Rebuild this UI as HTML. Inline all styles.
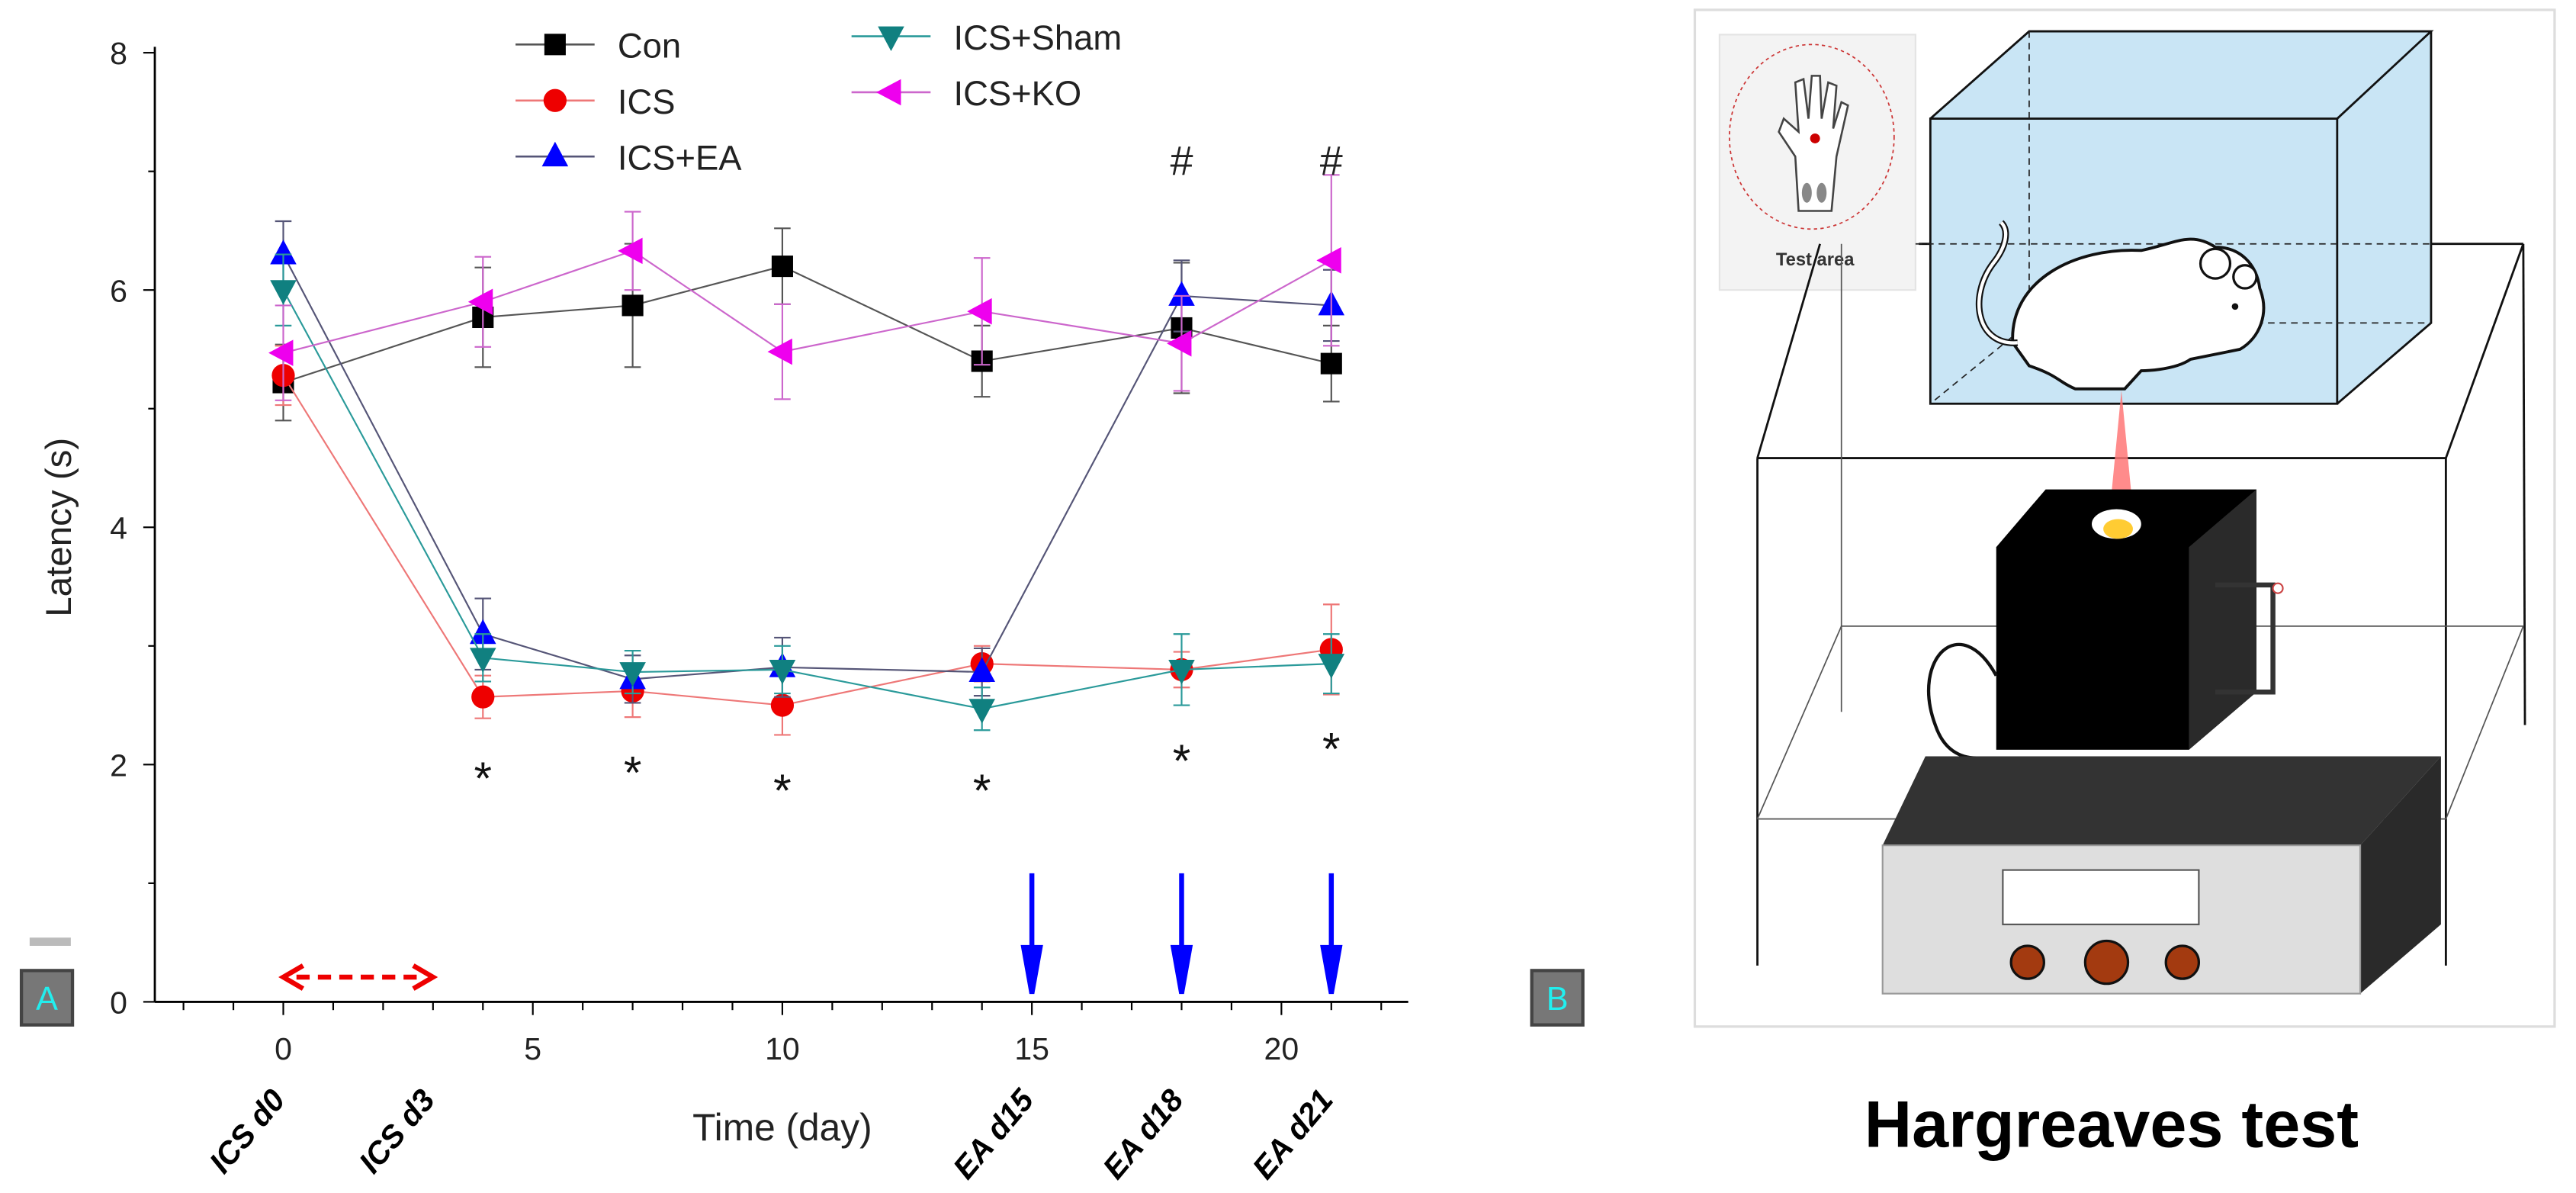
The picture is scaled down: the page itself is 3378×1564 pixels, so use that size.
<!DOCTYPE html>
<html><head><meta charset="utf-8"><style>
html,body{margin:0;padding:0;background:#fff;}
svg{display:block;font-family:"Liberation Sans",sans-serif;}
</style></head><body>
<svg width="3378" height="1564" viewBox="0 0 1564 724" preserveAspectRatio="none" xmlns="http://www.w3.org/2000/svg">
<rect x="0" y="0" width="1564" height="724" fill="#fff"/>
<g id="chart"></g>

<rect x="18" y="569" width="25" height="5" fill="#bbb"/>
<rect x="13" y="589" width="31" height="33" fill="#777" stroke="#444" stroke-width="2"/>
<text x="28.5" y="613" font-size="20" fill="#2ee" text-anchor="middle">A</text>
<rect x="930" y="589" width="31" height="33" fill="#777" stroke="#444" stroke-width="2"/>
<text x="945.5" y="613" font-size="20" fill="#2ee" text-anchor="middle">B</text>

<g>
<rect x="1029" y="6" width="522" height="617" fill="#fff" stroke="#ddd" stroke-width="1.5"/>
<rect x="1044" y="21" width="119" height="155" fill="#f3f3f3" stroke="#e4e4e4"/>
<ellipse cx="1100" cy="83" rx="50" ry="56" fill="none" stroke="#c33" stroke-width="0.8" stroke-dasharray="2,2"/>
<path d="M1092 128 L1090 95 L1080 80 L1083 72 L1092 80 L1090 50 L1095 48 L1098 72 L1100 46 L1105 46 L1106 72 L1110 50 L1115 52 L1113 78 L1118 62 L1122 64 L1115 95 L1112 128 Z" fill="#fff" stroke="#444" stroke-width="1.2"/>
<circle cx="1102" cy="84" r="3" fill="#c00"/>
<ellipse cx="1097" cy="117" rx="3" ry="6" fill="#888"/><ellipse cx="1106" cy="117" rx="3" ry="6" fill="#888"/>
<text x="1102" y="161" font-size="11" font-weight="bold" fill="#333" text-anchor="middle">Test area</text>
<g fill="none" stroke="#111" stroke-width="1.3">
<line x1="1067" y1="278" x2="1485" y2="278"/>
<line x1="1067" y1="278" x2="1105" y2="148"/>
<line x1="1485" y1="278" x2="1532" y2="148"/>
<line x1="1165" y1="148" x2="1532" y2="148"/>
<line x1="1067" y1="278" x2="1067" y2="586"/>
<line x1="1485" y1="278" x2="1485" y2="586"/>
<line x1="1532" y1="148" x2="1533" y2="440"/>
</g>
<g fill="none" stroke="#555" stroke-width="0.8">
<line x1="1118" y1="148" x2="1118" y2="432"/>
<line x1="1067" y1="497" x2="1485" y2="497"/>
<line x1="1118" y1="380" x2="1532" y2="380"/>
<line x1="1067" y1="497" x2="1118" y2="380"/>
<line x1="1485" y1="497" x2="1532" y2="380"/>
</g>
<path d="M1172 72 L1232 19 L1476 19 L1476 196 L1419 245 L1172 245 Z" fill="#c9e5f5"/>
<g fill="none" stroke="#111" stroke-width="1.3">
<rect x="1172" y="72" width="247" height="173"/>
<path d="M1172 72 L1232 19 L1476 19 L1419 72 M1476 19 L1476 196 L1419 245"/>
</g>
<g fill="none" stroke="#222" stroke-width="0.8" stroke-dasharray="4,3">
<path d="M1232 19 L1232 196 L1476 196 M1232 196 L1172 245 M1163 148 L1476 148"/>
</g>
<path d="M1222 208 C1220 170 1260 150 1300 152 C1320 148 1330 140 1345 150 C1360 150 1370 160 1372 175 C1378 190 1372 205 1360 212 L1330 218 C1320 225 1300 225 1300 225 L1290 236 L1260 236 C1250 232 1250 228 1232 222 Z" fill="#fff" stroke="#111" stroke-width="1.8"/>
<path d="M1225 208 C1200 210 1195 180 1210 160 C1218 150 1220 140 1215 135" fill="none" stroke="#111" stroke-width="4"/>
<path d="M1225 208 C1200 210 1195 180 1210 160 C1218 150 1220 140 1215 135" fill="none" stroke="#fff" stroke-width="2"/>
<circle cx="1345" cy="160" r="9" fill="#fff" stroke="#111" stroke-width="1.5"/>
<circle cx="1363" cy="168" r="7" fill="#fff" stroke="#111" stroke-width="1.5"/>
<circle cx="1357" cy="186" r="2" fill="#111"/>
<polygon points="1288,237 1280,320 1296,320" fill="#f77" opacity="0.85"/>
<polygon points="1212,332 1242,297 1370,297 1370,420 1329,455 1212,455" fill="#000"/>
<polygon points="1329,332 1370,297 1370,420 1329,455" fill="#2a2a2a"/>
<ellipse cx="1285" cy="318" rx="15" ry="9" fill="#fff"/>
<ellipse cx="1286" cy="321" rx="9" ry="6" fill="#fc3"/>
<path d="M1345 355 L1380 355 L1380 420 L1345 420" fill="none" stroke="#333" stroke-width="3"/>
<circle cx="1383" cy="357" r="3" fill="#fff" stroke="#c44"/>
<path d="M1212 410 C1190 370 1160 400 1175 440 C1180 455 1190 460 1200 460" fill="none" stroke="#111" stroke-width="2"/>
<polygon points="1143,513 1169,459 1482,459 1433,513" fill="#333"/>
<polygon points="1433,513 1482,459 1482,561 1433,603" fill="#2a2a2a"/>
<rect x="1143" y="513" width="290" height="90" fill="#dedede" stroke="#999"/>
<rect x="1216" y="528" width="119" height="33" fill="#fff" stroke="#555"/>
<circle cx="1231" cy="584" r="10" fill="#a33a10" stroke="#111" stroke-width="1.5"/>
<circle cx="1279" cy="584" r="13" fill="#a33a10" stroke="#111" stroke-width="1.5"/>
<circle cx="1325" cy="584" r="10" fill="#a33a10" stroke="#111" stroke-width="1.5"/>
</g>
<text x="1282" y="696" font-size="40" font-weight="bold" fill="#000" text-anchor="middle">Hargreaves test</text>
</svg>
<script>
const days = [0, 4, 7, 10, 14, 18, 21];
const conVals = [5.22, 5.77, 5.87, 6.2, 5.4, 5.68, 5.38];
const conErr = [0.32, 0.42, 0.52, 0.32, 0.3, 0.55, 0.32];
const icsVals = [5.28, 2.57, 2.62, 2.5, 2.85, 2.8, 2.97];
const icsErr = [0.25, 0.18, 0.22, 0.25, 0.15, 0.15, 0.38];
const eaVals = [6.3, 3.1, 2.72, 2.82, 2.78, 5.95, 5.87];
const eaErr = [0.28, 0.3, 0.2, 0.25, 0.2, 0.3, 0.3];
const shamVals = [6.0, 2.9, 2.78, 2.8, 2.47, 2.8, 2.85];
const shamErr = [0.3, 0.2, 0.18, 0.2, 0.18, 0.3, 0.25];
const koVals = [5.47, 5.9, 6.33, 5.48, 5.82, 5.55, 6.25];
const koErr = [0.4, 0.38, 0.33, 0.4, 0.45, 0.4, 0.72];
const yTicks = [0, 2, 4, 6, 8];
const xTicks = [0, 5, 10, 15, 20];
const dayLabels = ["ICS d0", "ICS d3", "EA d15", "EA d18", "EA d21"];
const dayLabelPos = [0, 3, 15, 18, 21];
const starDays = [4, 7, 10, 14, 18, 21];
const starVals = [2.0, 2.05, 1.9, 1.9, 2.15, 2.25];
const arrowDays = [15, 18, 21];
const hashDays = [18, 21];

const NS = "http://www.w3.org/2000/svg";
const g = document.getElementById("chart");
const X = d => 172 + d * 30.3;
const Y = v => 608 - v * 72;
function mk(tag, attrs, parent) {
  const e = document.createElementNS(NS, tag);
  for (const k in attrs) e.setAttribute(k, attrs[k]);
  (parent || g).appendChild(e);
  return e;
}
let ax = mk("line", {x1: 94, y1: Y(8.05), x2: 94, y2: 608, stroke: "#000", "stroke-width": 1.3});


ax = mk("line", {x1: 94, y1: 608, x2: 855, y2: 608, stroke: "#000", "stroke-width": 1.3});


for (let v = 0; v <= 8; v++) {
  const major = v % 2 === 0;
  const t = mk("line", {x1: 94, x2: major ? 87 : 90, y1: Y(v), y2: Y(v), stroke: "#000", "stroke-width": 1});
  
  
}
yTicks.forEach(v => {
  const t = mk("text", {x: 72, y: Y(v) + 7, "font-size": 19, "text-anchor": "middle", fill: "#222"});
  t.textContent = v;
  
  
});
for (let d = -2; d <= 22; d++) {
  const major = d % 5 === 0;
  const t = mk("line", {x1: X(d), x2: X(d), y1: 608, y2: major ? 616 : 613, stroke: "#000", "stroke-width": 1});
  
  
}
xTicks.forEach(d => {
  const t = mk("text", {x: X(d), y: 643, "font-size": 19, "text-anchor": "middle", fill: "#222"});
  t.textContent = d;
  
  
});
dayLabels.forEach((s, i) => {
  const x = X(dayLabelPos[i]) + 2, y = 668;
  const t = mk("text", {x: x, y: y, "font-size": 19, "font-weight": "bold", "font-style": "italic", "text-anchor": "end", fill: "#000", transform: `rotate(-50 ${x} ${y})`});
  t.textContent = s;
  
  
});
let tt = mk("text", {x: 475, y: 692, "font-size": 23, "text-anchor": "middle", fill: "#222"});
tt.textContent = "Time (day)";


tt = mk("text", {x: 43, y: 320, "font-size": 22, "text-anchor": "middle", fill: "#222", transform: "rotate(-90 43 320)"});
tt.textContent = "Latency (s)";



function marker(kind, x, y, color, parent) {
  const s = 6.5;
  let e;
  if (kind === "sq") e = mk("rect", {x: x - s, y: y - s, width: 2 * s, height: 2 * s, fill: color}, parent);
  else if (kind === "ci") e = mk("circle", {cx: x, cy: y, r: s + 0.5, fill: color}, parent);
  else if (kind === "up") e = mk("polygon", {points: `${x},${y - 9} ${x - 8},${y + 6} ${x + 8},${y + 6}`, fill: color}, parent);
  else if (kind === "dn") e = mk("polygon", {points: `${x},${y + 9} ${x - 8},${y - 6} ${x + 8},${y - 6}`, fill: color}, parent);
  else e = mk("polygon", {points: `${x - 9},${y} ${x + 6},${y - 8} ${x + 6},${y + 8}`, fill: color}, parent);
  return e;
}
const series = [
  {name: "con", vals: conVals, err: conErr, color: "#000", line: "#555", kind: "sq"},
  {name: "ics", vals: icsVals, err: icsErr, color: "#e00", line: "#e77", kind: "ci"},
  {name: "ics-ea", vals: eaVals, err: eaErr, color: "#00f", line: "#557", kind: "up"},
  {name: "ics-sham", vals: shamVals, err: shamErr, color: "#108080", line: "#2a9a9a", kind: "dn"},
  {name: "ics-ko", vals: koVals, err: koErr, color: "#e0e", line: "#c6c", kind: "lt"}
];
series.forEach(s => {
  const sg = mk("g", {});
  
  
  const pts = days.map((d, i) => X(d) + "," + Y(s.vals[i])).join(" ");
  const pl = mk("polyline", {points: pts, fill: "none", stroke: s.line, "stroke-width": 1}, sg);
  
  
  days.forEach((d, i) => {
    const x = X(d), y1 = Y(s.vals[i] + s.err[i]), y2 = Y(s.vals[i] - s.err[i]);
    const eb = mk("path", {d: `M${x} ${y1} V${y2} M${x - 5} ${y1} H${x + 5} M${x - 5} ${y2} H${x + 5}`, stroke: s.line, "stroke-width": 1, fill: "none"}, sg);
    
    
  });
  days.forEach((d, i) => {
    const m = marker(s.kind, X(d), Y(s.vals[i]), s.color, sg);
    
    
  });
});
starDays.forEach((d, i) => {
  const t = mk("text", {x: X(d), y: Y(starVals[i]) + 18, "font-size": 28, "text-anchor": "middle", fill: "#111"});
  t.textContent = "*";
  
  
});
hashDays.forEach(d => {
  const t = mk("text", {x: X(d), y: 106, "font-size": 25, "text-anchor": "middle", fill: "#222"});
  t.textContent = "#";
  
  
});
arrowDays.forEach(d => {
  const a = mk("path", {d: `M${X(d)} 530 V580 M${X(d) - 5} 575 L${X(d)} 603 L${X(d) + 5} 575 Z`, stroke: "#00f", "stroke-width": 3, fill: "#00f"});
  
  
});
const ra = mk("path", {d: `M${X(0) + 8} 593 H${X(3) - 8}`, stroke: "#e00", "stroke-width": 3, "stroke-dasharray": "8,5", fill: "none"});


const rh = mk("path", {d: `M${X(0) + 12} 586 L${X(0)} 593 L${X(0) + 12} 600 M${X(3) - 12} 586 L${X(3)} 593 L${X(3) - 12} 600`, stroke: "#e00", "stroke-width": 3, fill: "none"});


const legPos = [[313, 27], [313, 61], [313, 95], [517, 22], [517, 56]];
const legText = ["Con", "ICS", "ICS+EA", "ICS+Sham", "ICS+KO"];
series.forEach((s, i) => {
  const [lx, ly] = legPos[i];
  const lg = mk("g", {});
  
  
  mk("line", {x1: lx, x2: lx + 48, y1: ly, y2: ly, stroke: s.line, "stroke-width": 1.2}, lg);
  marker(s.kind, lx + 24, ly, s.color, lg);
  const t = mk("text", {x: lx + 62, y: ly + 8, "font-size": 21, fill: "#222"}, lg);
  t.textContent = legText[i];
});
</script>
</body></html>
